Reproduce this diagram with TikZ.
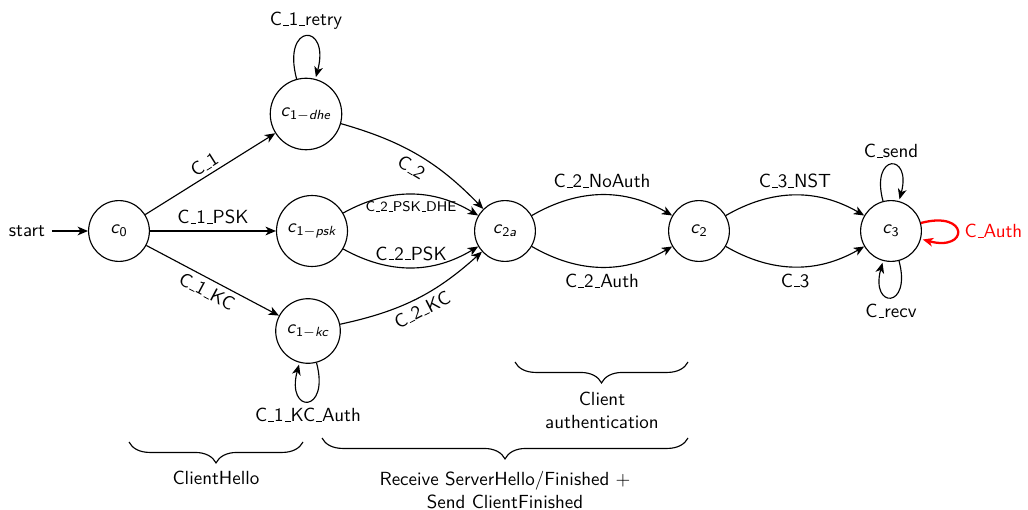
\documentclass[tikz,border=0pt]{standalone}
\usetikzlibrary{arrows.meta,decorations.pathreplacing}
\newcommand{\uscore}{\leavevmode\kern.06em\vbox{\hrule width.3em}}
\newcommand{\cst}[1]{\textit{c}\textsubscript{#1}}
\begin{document}
\begin{tikzpicture}[x=0.5263pt,y=-0.5263pt,
  >={Stealth[length=5.5pt,width=4.6pt,inset=1.6pt]}, semithick,
  every node/.style={font=\sffamily},
  st/.style={circle,draw,minimum size=32pt,inner sep=4pt},
  small/.style={font=\sffamily\fontsize{7.4}{9}\selectfont},
  br/.style={decorate,decoration={brace,mirror,amplitude=11pt}}]
\useasboundingbox (0,0) rectangle (1028,510);
% states
\node[st] (c0)  at (119,231) {\cst{0}};
\node[st] (c1d) at (306,114) {\cst{1$-$\textit{dhe}}};
\node[st] (c1p) at (312,231) {\cst{1$-$\textit{psk}}};
\node[st] (c1k) at (308,331) {\cst{1$-$\textit{kc}}};
\node[st] (c2a) at (505,231) {\cst{2\textit{a}}};
\node[st] (c2)  at (699,231) {\cst{2}};
\node[st] (c3)  at (891,231) {\cst{3}};
% initial
\node (start) at (27,231) {start};
\draw[->] (start) -- (c0);
% transitions
\draw[->] (c0) -- node[sloped,above,inner sep=2pt] (l01) {C\uscore 1} (c1d);
\draw[->] (c0) -- node[above] (l02) {C\uscore 1\uscore PSK} (c1p);
\draw[->] (c0) -- node[sloped,below,inner sep=2.5pt] (l03) {C\uscore 1\uscore KC} (c1k);
\draw[->] (c1d) to[bend left=15] node[sloped,below] (l11) {C\uscore 2} (c2a);
\draw[->] (c1p) to[bend left] node[below,small] (l12) {C\uscore 2\uscore PSK\uscore DHE} (c2a);
\draw[->] (c1p) to[bend right] node[above] (l13) {C\uscore 2\uscore PSK} (c2a);
\draw[->] (c1k) to[bend right=15] node[sloped,below,inner sep=2.5pt] (l14) {C\uscore 2\uscore KC} (c2a);
\draw[->] (c2a) to[bend left] node[above] (l21) {C\uscore 2\uscore NoAuth} (c2);
\draw[->] (c2a) to[bend right] node[below] (l22) {C\uscore 2\uscore Auth} (c2);
\draw[->] (c2) to[bend left] node[above] (l31) {C\uscore 3\uscore NST} (c3);
\draw[->] (c2) to[bend right] node[below] (l32) {C\uscore 3} (c3);
% loops
\path[->] (c1d) edge[loop above] node[above] (lr) {C\uscore 1\uscore retry} ();
\path[->] (c1k) edge[loop below] node[below] (lka) {C\uscore 1\uscore KC\uscore Auth} ();
\path[->] (c3) edge[loop above] node[above] (ls) {C\uscore send} ();
\path[->] (c3) edge[loop below] node[below] (lrv) {C\uscore recv} ();
\path[->,red,very thick] (c3) edge[loop right] node[right,text=red] (la) {C\uscore Auth} ();
% braces
\coordinate (b1s) at (129,442); \coordinate (b1e) at (303,442);
\coordinate (b2s) at (322,438); \coordinate (b2e) at (688,438);
\coordinate (b3s) at (515,362); \coordinate (b3e) at (688,362);
\draw[br] (b1s) -- (b1e);
\draw[br] (b2s) -- (b2e);
\draw[br] (b3s) -- (b3e);
\node (ch) at (216,478) {ClientHello};
\node[align=center,inner sep=1pt] (rs) at (505,490) {Receive ServerHello/Finished $+$\\Send ClientFinished};
\node[align=center] (ca) at (602,410) {Client\\authentication};
\end{tikzpicture}
\end{document}
